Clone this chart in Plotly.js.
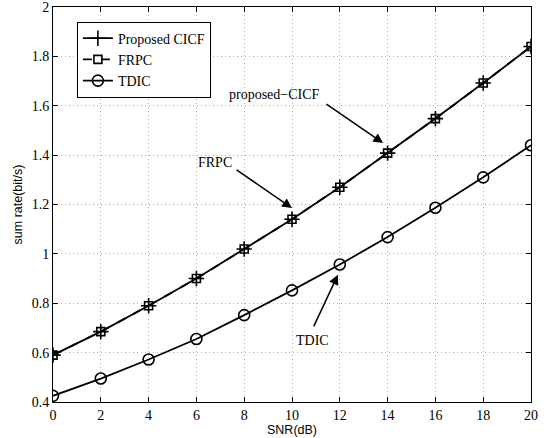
<!DOCTYPE html>
<html>
<head>
<meta charset="utf-8">
<script src="https://cdn.plot.ly/plotly-3.0.1.min.js"></script>
<style>html,body{margin:0;padding:0;background:#fff;}#chart{width:544px;height:438px;}</style>
</head>
<body>
<div id="chart"></div>
<script>
const snr = [0, 2, 4, 6, 8, 10, 12, 14, 16, 18, 20];
const cicf = [0.590, 0.685, 0.790, 0.900, 1.020, 1.140, 1.270, 1.408, 1.548, 1.692, 1.840];
const frpc = [0.590, 0.685, 0.790, 0.900, 1.020, 1.140, 1.270, 1.408, 1.548, 1.692, 1.840];
const tdic = [0.425, 0.495, 0.572, 0.655, 0.752, 0.852, 0.957, 1.068, 1.187, 1.310, 1.440];
const seriesNames = ["Proposed CICF", "FRPC", "TDIC"];
const xTicks = [0, 2, 4, 6, 8, 10, 12, 14, 16, 18, 20];
const yTicks = [0.4, 0.6, 0.8, 1, 1.2, 1.4, 1.6, 1.8, 2];

const serif = "Liberation Serif, Times New Roman, serif";
const sans = "Liberation Sans, Arial, sans-serif";

const traces = [
  {x: snr, y: cicf, name: seriesNames[0], type: "scatter", mode: "lines+markers",
   line: {color: "#000", width: 1.8},
   marker: {symbol: "cross-thin-open", size: 11, color: "#000", line: {color: "#000", width: 1.6}}},
  {x: snr, y: frpc, name: seriesNames[1], type: "scatter", mode: "lines+markers",
   line: {color: "#000", width: 1.8, dash: "dash"},
   marker: {symbol: "square-open", size: 8, color: "#000", line: {color: "#000", width: 1.6}}},
  {x: snr, y: tdic, name: seriesNames[2], type: "scatter", mode: "lines+markers",
   line: {color: "#000", width: 1.8},
   marker: {symbol: "circle-open", size: 11, color: "#000", line: {color: "#000", width: 1.6}}}
];

const axisCommon = {
  showline: true, linecolor: "#000", linewidth: 1, mirror: "ticks",
  ticks: "inside", ticklen: 5, tickcolor: "#000", tickwidth: 1,
  showgrid: true, gridcolor: "#b0b0b0", griddash: "1px,3px", gridwidth: 1,
  zeroline: false, ticklabeloverflow: "allow",
  tickfont: {family: serif, size: 14, color: "#000"}
};

const layout = {
  width: 544, height: 438,
  margin: {l: 53, r: 13, t: 7, b: 36},
  paper_bgcolor: "#fff", plot_bgcolor: "#fff",
  showlegend: true,
  xaxis: Object.assign({}, axisCommon, {
    range: [0, 20], tickvals: xTicks, ticktext: xTicks.map(String),
    title: {text: "SNR(dB)", font: {family: sans, size: 12.5, color: "#000"}, standoff: 1}
  }),
  yaxis: Object.assign({}, axisCommon, {
    range: [0.4, 2], tickvals: yTicks, ticktext: yTicks.map(String),
    title: {text: "sum rate(bit/s)", font: {family: sans, size: 12.5, color: "#000"}, standoff: 6}
  }),
  legend: {
    x: 0.05, y: 0.963, xanchor: "left", yanchor: "top",
    bgcolor: "#fff", bordercolor: "#000", borderwidth: 1,
    font: {family: serif, size: 14, color: "#000"},
    tracegroupgap: 0, itemwidth: 30
  },
  annotations: [
    {x: 13.81, y: 1.449, ax: 11.38, ay: 1.611, axref: "x", ayref: "y", xref: "x", yref: "y",
     text: "", showarrow: true, arrowhead: 2, arrowsize: 1.3, arrowwidth: 1.5, arrowcolor: "#000"},
    {x: 9.25, y: 1.644, xref: "x", yref: "y", text: "proposed\u2212CICF", showarrow: false,
     font: {family: serif, size: 14, color: "#000"}},
    {x: 10.0, y: 1.186, ax: 7.62, ay: 1.344, axref: "x", ayref: "y", xref: "x", yref: "y",
     text: "", showarrow: true, arrowhead: 2, arrowsize: 1.3, arrowwidth: 1.5, arrowcolor: "#000"},
    {x: 6.78, y: 1.372, xref: "x", yref: "y", text: "FRPC", showarrow: false,
     font: {family: serif, size: 14, color: "#000"}},
    {x: 11.92, y: 0.915, ax: 10.88, ay: 0.700, axref: "x", ayref: "y", xref: "x", yref: "y",
     text: "", showarrow: true, arrowhead: 2, arrowsize: 1.3, arrowwidth: 1.5, arrowcolor: "#000"},
    {x: 10.84, y: 0.651, xref: "x", yref: "y", text: "TDIC", showarrow: false,
     font: {family: serif, size: 14, color: "#000"}}
  ]
};

Plotly.newPlot("chart", traces, layout, {displayModeBar: false, staticPlot: true});
</script>
</body>
</html>
